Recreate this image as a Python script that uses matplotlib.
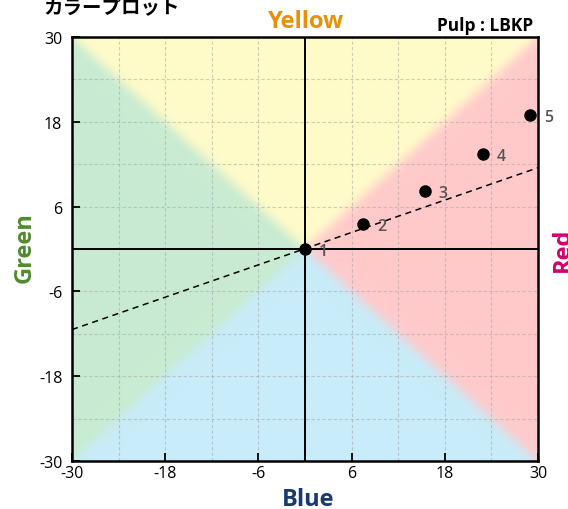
import numpy as np
import matplotlib
matplotlib.use("Agg")
import matplotlib.pyplot as plt

plt.rcParams['font.family'] = ['Open Sans', 'Noto Sans CJK JP', 'DejaVu Sans']
plt.rcParams['axes.unicode_minus'] = False

# ---- data ----
points_x = [0.0, 7.5, 15.4, 22.9, 29.0]
points_y = [0.0, 3.5, 8.2, 13.4, 19.0]
point_labels = ['1', '2', '3', '4', '5']
line_x = [-30, 30]
line_y = [-11.4, 11.5]
major_ticks = [-30, -18, -6, 6, 18, 30]
minor_ticks = [-24, -12, 0, 12, 24]
title = 'カラープロット'
subtitle = 'Pulp : LBKP'

W, H = 568, 510
fig = plt.figure(figsize=(W / 100, H / 100), dpi=100)
ax = fig.add_axes([72 / W, 48 / H, 466 / W, 424 / H])

# ---- background colour quadrants ----
nx, ny = 466, 424
u = (np.arange(nx) + 0.5) / nx * 2 - 1
v = 1 - (np.arange(ny) + 0.5) / ny * 2
U, V = np.meshgrid(u, v)
yellow = np.array([255, 251, 201]) / 255
blue = np.array([200, 236, 249]) / 255
red = np.array([255, 202, 203]) / 255
green = np.array([200, 235, 210]) / 255
img = np.zeros((ny, nx, 3))
vert = np.abs(V) >= np.abs(U)
img[vert & (V > 0)] = yellow
img[vert & (V <= 0)] = blue
img[~vert & (U > 0)] = red
img[~vert & (U <= 0)] = green

sigma = 5.0
k = np.arange(-15, 16)
kern = np.exp(-0.5 * (k / sigma) ** 2)
kern /= kern.sum()
pad = 15
P = np.pad(img, ((pad, pad), (pad, pad), (0, 0)), mode='edge')
for c in range(3):
    P[:, :, c] = np.apply_along_axis(lambda r: np.convolve(r, kern, mode='same'), 1, P[:, :, c])
    P[:, :, c] = np.apply_along_axis(lambda r: np.convolve(r, kern, mode='same'), 0, P[:, :, c])
img = P[pad:-pad, pad:-pad]

ax.imshow(img, extent=[-30, 30, -30, 30], aspect='auto', zorder=0, interpolation='bilinear')

ax.set_xlim(-30, 30)
ax.set_ylim(-30, 30)
ax.set_xticks(major_ticks)
ax.set_yticks(major_ticks)
ax.set_xticks(minor_ticks, minor=True)
ax.set_yticks(minor_ticks, minor=True)
ax.grid(which='both', color='#a0a0a0', linestyle=(0, (3, 2)), linewidth=0.8, alpha=0.5)
ax.tick_params(which='major', direction='in', length=6, width=1.3, labelsize=11.5, color='black')
ax.tick_params(axis='y', which='major', pad=7)
ax.tick_params(axis='x', which='major', pad=3)
ax.tick_params(which='minor', length=0)
for s in ax.spines.values():
    s.set_linewidth(1.8)

ax.axhline(0, color='black', lw=1.4, zorder=2)
ax.axvline(0, color='black', lw=1.4, zorder=2)

ax.plot(line_x, line_y, color='black', lw=1.1, linestyle=(0, (4, 3)), zorder=3)
ax.plot(points_x, points_y, 'o', color='black', markersize=8, zorder=4)
for x, y, lab in zip(points_x, points_y, point_labels):
    ax.annotate(lab, (x, y), xytext=(10, -1.5), textcoords='offset points',
                ha='left', va='center', fontsize=11.5, color='#555555', fontweight='semibold', zorder=5)

def fx(px):
    return px / W

def fy(py):
    return 1 - py / H

fig.text(fx(306), fy(28.5), 'Yellow', color='#E8900A', fontsize=17, fontweight='bold',
         ha='center', va='baseline')
fig.text(fx(308), fy(506), 'Blue', color='#1A3A6E', fontsize=17, fontweight='bold',
         ha='center', va='baseline')
fig.text(fx(31), fy(248), 'Green', color='#4F8B2F', fontsize=17, fontweight='bold',
         ha='center', va='baseline', rotation=90, rotation_mode='anchor')
fig.text(fx(569), fy(250), 'Red', color='#D4006E', fontsize=17, fontweight='bold',
         ha='center', va='baseline', rotation=90, rotation_mode='anchor')
fig.text(fx(533), fy(30.7), subtitle, color='black', fontsize=12.5, fontweight='bold',
         ha='right', va='baseline')
fig.text(fx(43), fy(13), title, color='black', fontsize=14, fontweight='bold',
         ha='left', va='baseline')

fig.savefig('out.png', dpi=100)
